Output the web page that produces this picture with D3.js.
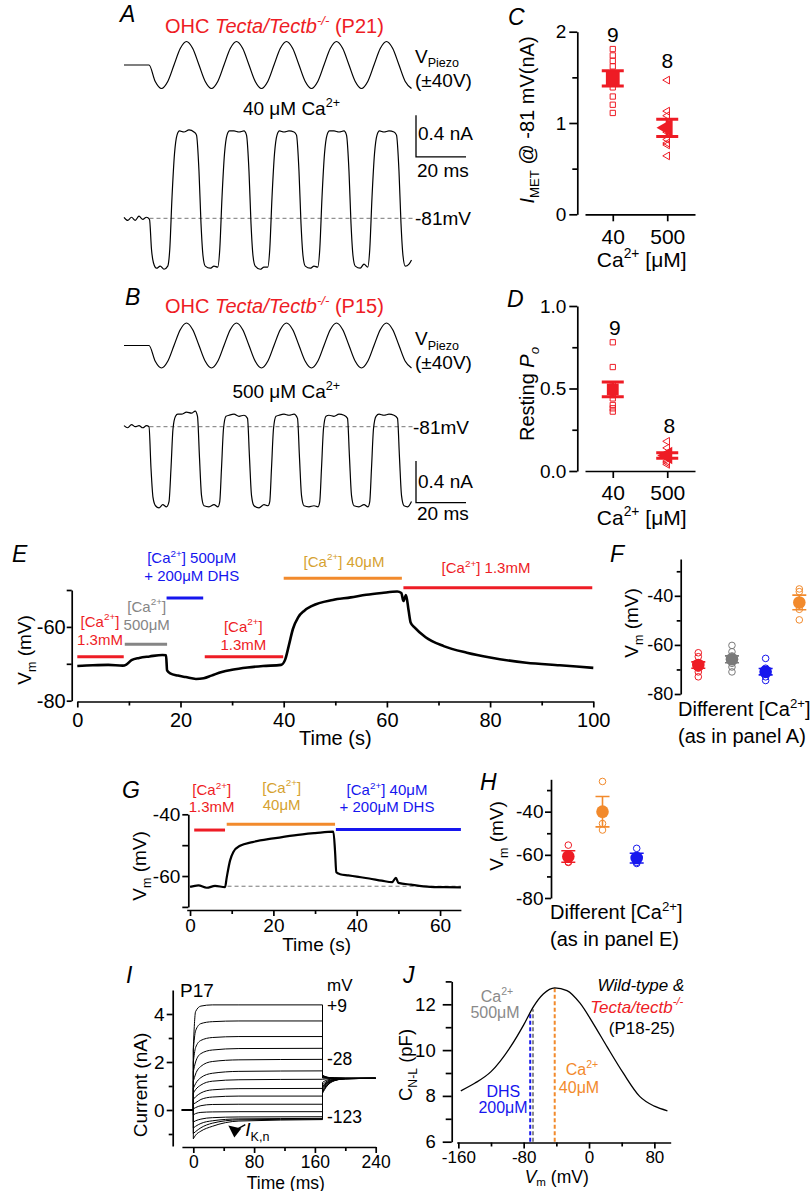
<!DOCTYPE html>
<meta charset="utf-8" />
<style>
  body { margin: 0; background: #fff; }
  svg { font-family: "Liberation Sans", Arial, Helvetica, sans-serif; }
  .trace { fill: none; stroke: #000; stroke-width: 1.2; stroke-linejoin: round; }
</style>
<body>
<svg id="fig" width="811" height="1191"></svg>
<script src="https://cdn.jsdelivr.net/npm/d3@7"></script>
<script>
const FONT = "'Liberation Sans', Arial, Helvetica, sans-serif";
const RED = "#ee1c25", GRAY = "#858585", BLUE = "#1616ee", ORANGE = "#f28a2c", GOLD = "#d6a230";

// ---- A / B : piezo drive (V) and MET current (nA) vs time (ms)
const piezo = [[0,0],[10,0],[12.5,-28],[15,-40],[17.5,-28],[20,0],[22.5,28],[25,40],[27.5,28],[30,0],
  [32.5,-28],[35,-40],[37.5,-28],[40,0],[42.5,28],[45,40],[47.5,28],[50,0],[52.5,-28],[55,-40],
  [57.5,-28],[60,0],[62.5,28],[65,40],[67.5,28],[70,0],[72.5,-28],[75,-40],[77.5,-28],[80,0],
  [82.5,28],[85,40],[87.5,28],[90,0],[92.5,-28],[95,-40],[97.5,-28],[100,0],[102.5,28],[105,40],
  [107.5,28],[110,0],[112.5,-28],[115,-40]];
const curA = [[0,0.01],[1.5,-0.02],[3,0.01],[4.5,-0.02],[6,0.02],[7.5,-0.01],[9,0.01],[10.2,-0.01],
  [11,-0.3],[11.8,-0.43],[13,-0.48],[14.5,-0.46],[16,-0.49],[17.5,-0.46],
  [18.3,-0.3],[19.2,0.2],[20.2,0.62],[21.2,0.8],[22.2,0.84],[24,0.83],[26,0.85],[28,0.83],[29,0.8],
  [30,0.45],[30.8,-0.05],[31.6,-0.36],[32.5,-0.46],[34.5,-0.48],[36,-0.46],[37.5,-0.47],
  [38.3,-0.3],[39.2,0.2],[40.2,0.62],[41.2,0.8],[42.2,0.84],[44,0.84],[46,0.83],[48,0.84],[49,0.8],
  [50,0.45],[50.8,-0.05],[51.6,-0.36],[52.5,-0.46],[54.5,-0.49],[56,-0.47],[57.5,-0.47],
  [58.3,-0.3],[59.2,0.2],[60.2,0.62],[61.2,0.8],[62.2,0.84],[64,0.83],[66,0.84],[68,0.83],[69,0.8],
  [70,0.45],[70.8,-0.05],[71.6,-0.36],[72.5,-0.46],[74.5,-0.48],[76,-0.46],[77.5,-0.47],
  [78.3,-0.3],[79.2,0.2],[80.2,0.62],[81.2,0.8],[82.2,0.84],[84,0.84],[86,0.83],[88,0.84],[89,0.8],
  [90,0.45],[90.8,-0.05],[91.6,-0.36],[92.5,-0.46],[94.5,-0.48],[96,-0.44],[97.5,-0.47],
  [98.3,-0.3],[99.2,0.2],[100.2,0.62],[101.2,0.8],[102.2,0.84],[104,0.83],[106,0.84],[108,0.83],[109,0.8],
  [110,0.45],[110.8,-0.05],[111.6,-0.36],[112.5,-0.46],[114,-0.44],[115,-0.4]];
const curB = [[0,0.01],[1.5,-0.01],[3,0.02],[4.5,0],[6,0.01],[7.5,-0.01],[9,0.01],[10,0],
  [10.8,-0.4],[11.6,-0.68],[12.6,-0.76],[14,-0.78],[15.5,-0.75],[17,-0.77],[18,-0.72],
  [18.8,-0.4],[19.6,-0.02],[20.6,0.1],[21.5,0.12],[23,0.12],[25,0.14],[27,0.13],[28.5,0.15],[29.4,0.1],
  [30.2,-0.3],[31,-0.66],[32,-0.76],[34,-0.77],[36,-0.75],[37.6,-0.77],[38.3,-0.72],
  [39,-0.4],[39.8,-0.02],[40.8,0.1],[42,0.11],[44,0.12],[46,0.1],[48,0.11],[49.4,0.08],
  [50.2,-0.3],[51,-0.66],[52,-0.76],[54,-0.78],[56,-0.75],[57.6,-0.76],[58.3,-0.72],
  [59,-0.4],[59.8,-0.02],[60.8,0.1],[62,0.11],[64,0.12],[66,0.11],[68,0.12],[69.4,0.08],
  [70.2,-0.3],[71,-0.66],[72,-0.76],[74,-0.77],[76,-0.76],[77.6,-0.77],[78.3,-0.72],
  [79,-0.4],[79.8,-0.02],[80.8,0.1],[82,0.11],[84,0.1],[86,0.12],[88,0.11],[89.4,0.08],
  [90.2,-0.3],[91,-0.66],[92,-0.76],[94,-0.77],[96,-0.75],[97.6,-0.77],[98.3,-0.72],
  [99,-0.4],[99.8,-0.02],[100.8,0.1],[102,0.12],[104,0.11],[106,0.12],[108,0.11],[109.4,0.08],
  [110.2,-0.3],[111,-0.66],[112,-0.76],[113.5,-0.77],[115,-0.72]];

// ---- C / D : per-cell values
const caCats = ["40", "500"];
const cSq = [1.81, 1.74, 1.68, 1.62, 1.55, 1.39, 1.29, 1.20, 1.11];
const cTri = [1.47, 1.13, 1.08, 0.90, 0.82, 0.78, 0.76, 0.64];
const dSq = [0.78, 0.63, 0.52, 0.48, 0.46, 0.44, 0.40, 0.38, 0.36];
const dTri = [0.18, 0.14, 0.11, 0.09, 0.08, 0.06, 0.05, 0.04];

// ---- E : Vm trace (s, mV) and solution periods
const traceE = [[0,-70.6],[3,-70.4],[6,-70.3],[8.8,-70.5],[9.5,-70.2],[10.5,-69.0],[12,-68.4],[14,-68.0],
  [16.5,-67.6],[17.2,-67.7],[17.4,-71.8],[18,-72.6],[19.5,-73.2],[21,-73.6],[23,-74.1],[24.5,-73.9],
  [26,-73.2],[28,-72.2],[30,-71.6],[33,-71.0],[36,-70.6],[39.5,-70.3],[40.3,-68.8],[41,-65],[41.8,-60.5],
  [42.8,-57.4],[44,-55.6],[45.5,-54.3],[49.5,-52.7],[53,-52.0],[56,-51.3],[59,-50.8],[62,-50.4],
  [62.8,-50.8],[63.2,-53.0],[63.7,-51.4],[64.2,-55.5],[64.6,-58.8],[65.4,-60.2],[67.5,-62.8],
  [71,-65.2],[75.5,-67.0],[80,-68.3],[87,-69.7],[93.5,-70.4],[100,-71.1]];
const eSol = [
  { from: 0, to: 9, color: RED, text: RED, lines: [[["[Ca"], ["2+", "sup"], ["]"]], [["1.3mM"]]] },
  { from: 9.2, to: 17.4, color: GRAY, text: GRAY, lines: [[["[Ca"], ["2+", "sup"], ["]"]], [["500μM"]]] },
  { from: 17.3, to: 24.4, color: BLUE, text: BLUE, lines: [[["[Ca"], ["2+", "sup"], ["] 500μM"]], [["+ 200μM DHS"]]] },
  { from: 24.7, to: 39.9, color: RED, text: RED, lines: [[["[Ca"], ["2+", "sup"], ["]"]], [["1.3mM"]]] },
  { from: 40, to: 62.9, color: ORANGE, text: GOLD, lines: [[["[Ca"], ["2+", "sup"], ["] 40μM"]]] },
  { from: 63.2, to: 99.8, color: RED, text: RED, lines: [[["[Ca"], ["2+", "sup"], ["] 1.3mM"]]] }
];
// bar level (mV) and label anchor (x px, first baseline px) for each period
const eBarLevel = [-68.1, -64.7, -52.2, -68.1, -46.8, -49.4];
const eLabelPos = [[100, 626.7], [146.7, 611.7], [191.7, 563.3], [243.3, 631.7], [344, 566.7], [486, 573.3]];

// ---- F / H : Vm per solution
const fCats = ["1.3mM", "500μM", "DHS", "40μM"];
const fColors = [RED, "#7a7a7a", BLUE, ORANGE];
const fVals = [
  [-63.2, -64.8, -67.5, -68.5, -69.5, -71.0, -73.0],
  [-60.2, -62.8, -64.5, -66.0, -67.5, -69.0, -71.0],
  [-65.5, -69.5, -71.0, -72.0, -73.0, -74.5],
  [-37.2, -38.3, -45.5, -49.8]
];
const hCats = ["1.3mM", "40μM", "DHS"];
const hColors = [RED, ORANGE, BLUE];
const hVals = [[-55.5, -63.3, -63.5], [-26, -45.5, -48.5], [-57, -63.5, -64]];

// ---- G : Vm trace (s, mV) and solution periods
const traceG = [[0,-63.5],[2,-63.0],[4,-63.8],[6,-63.2],[8.4,-63.6],[8.8,-60.5],[9.6,-55],[10.4,-52.2],
  [12,-50.2],[15,-49.0],[20,-47.8],[25,-46.8],[30,-46.1],[34.4,-45.6],[34.8,-52],[35.1,-58.8],[36,-59.4],
  [38,-59.8],[40,-60.2],[43,-60.8],[46,-61.5],[48.5,-62.0],[49.4,-60.6],[50,-62.2],[53,-62.8],
  [57.6,-63.5],[61,-63.6],[65,-63.7]];
const gSol = [
  { from: 1, to: 8.4, color: RED, text: RED, lines: [[["[Ca"], ["2+", "sup"], ["]"]], [["1.3mM"]]] },
  { from: 8.8, to: 34.8, color: ORANGE, text: GOLD, lines: [[["[Ca"], ["2+", "sup"], ["]"]], [["40μM"]]] },
  { from: 35, to: 65, color: BLUE, text: BLUE, lines: [[["[Ca"], ["2+", "sup"], ["] 40μM"]], [["+ 200μM DHS"]]] }
];
const gBarLevel = [-45.1, -43.2, -44.9];
const gLabelPos = [[211.7, 795], [281.7, 792.7], [387, 795]];
const gRest = -63.3;

// ---- I : K+ currents (nA); step samples at iStepT, tail samples at iTailT (ms)
const iStepT = [0, 3, 10, 25, 60, 170];
const iStep = [
  [2.6, 4.1, 4.33, 4.38, 4.38, 4.38],
  [2.5, 3.3, 3.6, 3.68, 3.71, 3.71],
  [2.0, 2.6, 2.9, 3.02, 3.06, 3.06],
  [1.6, 2.0, 2.35, 2.5, 2.56, 2.57],
  [1.2, 1.5, 1.82, 2.02, 2.09, 2.11],
  [0.9, 1.1, 1.35, 1.53, 1.61, 1.63],
  [0.7, 0.85, 1.04, 1.2, 1.26, 1.28],
  [0.45, 0.55, 0.71, 0.84, 0.89, 0.9],
  [0.25, 0.3, 0.44, 0.54, 0.58, 0.58],
  [0.05, 0.1, 0.18, 0.23, 0.24, 0.24],
  [-0.2, -0.15, -0.1, -0.08, -0.07, -0.07],
  [-0.5, -0.45, -0.38, -0.32, -0.29, -0.28],
  [-0.75, -0.68, -0.56, -0.45, -0.37, -0.35],
  [-0.98, -0.9, -0.74, -0.55, -0.41, -0.38],
  [-1.2, -1.05, -0.88, -0.68, -0.46, -0.4]];
const iTailT = [170, 176, 186, 200, 240];
const iTail = [
  [1.45, 1.37, 1.33, 1.32, 1.32], [1.43, 1.36, 1.33, 1.32, 1.32], [1.41, 1.36, 1.33, 1.32, 1.32],
  [1.39, 1.35, 1.33, 1.32, 1.32], [1.37, 1.34, 1.33, 1.32, 1.32], [1.33, 1.33, 1.32, 1.32, 1.32],
  [1.28, 1.3, 1.31, 1.32, 1.32], [1.15, 1.25, 1.3, 1.31, 1.32], [1.05, 1.2, 1.28, 1.31, 1.32],
  [0.98, 1.16, 1.27, 1.31, 1.32], [0.92, 1.13, 1.26, 1.31, 1.32], [0.86, 1.1, 1.25, 1.3, 1.32],
  [0.8, 1.06, 1.24, 1.3, 1.32], [0.75, 1.03, 1.23, 1.3, 1.32], [0.7, 1.0, 1.22, 1.3, 1.32]];
const iLabels = ["+9", "-28", "-123"];

// ---- J : non-linear capacitance (mV, pF)
const nlc = [[-157,8.22],[-140,8.55],[-120,9.06],[-96,10.15],[-80,11.1],[-68,11.9],[-56,12.45],[-42,12.72],
  [-27,12.6],[-11,12.05],[5,11.17],[22,10.15],[42,8.99],[62,7.98],[80,7.55],[96,7.35]];
const jMarks = [{ v: -72, top: 11.62, color: BLUE }, { v: -68.6, top: 11.78, color: "#8a8a8a" }, { v: -42, top: 12.72, color: ORANGE }];

// ================= drawing =================
const svg = d3.select("#fig");

function rich(g, x, y, parts, o = {}) {
  const fs = o.size || 19;
  const t = g.append("text").attr("x", x).attr("y", y).attr("font-size", fs)
    .attr("fill", o.fill || "#000").attr("text-anchor", o.anchor || "start");
  if (o.italic) t.attr("font-style", "italic");
  if (o.transform) t.attr("transform", o.transform);
  let shift = 0;
  parts.forEach(p => {
    if (typeof p === "string") p = [p];
    const [txt, kind, it] = p;
    const target = kind === "sup" ? -0.42 * fs : kind === "sub" ? (o.subShift ?? 0.26) * fs : 0;
    const s = t.append("tspan").text(txt).attr("dy", target - shift);
    shift = target;
    if (kind === "sup" || kind === "sub") s.attr("font-size", fs * 0.66);
    if (it) s.attr("font-style", "italic");
  });
  return t;
}
const vertTitle = (g, x, y, parts, size) =>
  rich(g, 0, 0, parts, { size, anchor: "middle", transform: `translate(${x},${y}) rotate(-90)` });
const letter = (x, y, s) => svg.append("text").attr("x", x).attr("y", y).attr("font-size", 23)
  .attr("font-style", "italic").text(s);

function styleAxis(a, size) {
  a.attr("font-size", size).attr("font-family", FONT);
  a.selectAll("path, line").attr("stroke", "#000").attr("stroke-width", 1.7);
  a.selectAll("text").attr("fill", "#000");
}
function leftAxis(g, y, x, ticks, o) {
  const a = g.append("g").attr("transform", `translate(${x},0)`)
    .call(d3.axisLeft(y).tickValues(ticks).tickSizeInner(o.len).tickSizeOuter(0)
      .tickPadding(o.pad).tickFormat(o.fmt || (d => String(d))));
  styleAxis(a, o.size);
  if (o.minor) {
    const m = g.append("g").attr("transform", `translate(${x},0)`)
      .call(d3.axisLeft(y).tickValues(o.minor).tickSizeInner(o.minLen).tickSizeOuter(0).tickFormat(""));
    m.select(".domain").remove();
    styleAxis(m, 10);
  }
}
function bottomAxis(g, x, y, ticks, o) {
  const ax = d3.axisBottom(x).tickSizeInner(o.len).tickSizeOuter(0).tickPadding(o.pad)
    .tickFormat(o.fmt || (d => String(d)));
  if (ticks) ax.tickValues(ticks);
  const a = g.append("g").attr("transform", `translate(0,${y})`).call(ax);
  styleAxis(a, o.size);
  if (o.minor) {
    const m = g.append("g").attr("transform", `translate(0,${y})`)
      .call(d3.axisBottom(x).tickValues(o.minor).tickSizeInner(o.minLen).tickSizeOuter(0).tickFormat(""));
    m.select(".domain").remove();
    styleAxis(m, 10);
  }
}
const stats = v => ({ m: d3.mean(v), s: d3.deviation(v) / Math.sqrt(v.length) });

// ---------- A and B ----------
const xA = d3.scaleLinear().domain([0, 115]).range([124, 411.5]);
function recording(opt) {
  const g = svg.append("g");
  const yS = d3.scaleLinear().domain([-40, 40]).range(opt.sRange);
  const yI = d3.scaleLinear().domain([0, 1]).range([opt.zero, opt.zero - 104]);
  g.append("path").attr("class", "trace")
    .attr("d", d3.line().x(d => xA(d[0])).y(d => yS(d[1])).curve(d3.curveMonotoneX)(piezo));
  g.append("line").attr("x1", xA(10.2)).attr("x2", 414).attr("y1", yI(0)).attr("y2", yI(0))
    .attr("stroke", "#777").attr("stroke-width", 1).attr("stroke-dasharray", "4,3");
  g.append("path").attr("class", "trace")
    .attr("d", d3.line().x(d => xA(d[0])).y(d => yI(d[1])).curve(d3.curveMonotoneX)(opt.cur));
  // scale bars 0.4 nA / 20 ms
  const bx = xA(116.8), by = yI(opt.barLow);
  g.append("path").attr("fill", "none").attr("stroke", "#000").attr("stroke-width", 1.3)
    .attr("d", `M${bx},${yI(opt.barLow + 0.4)}V${by}H${xA(136.8)}`);
  rich(g, bx + 2, opt.nA, ["0.4 nA"], { size: 19 });
  rich(g, bx + 1, opt.ms, ["20 ms"], { size: 19 });
  rich(g, 165, opt.title, ["OHC ", ["Tecta/Tectb", "", 1], ["-/-", "sup", 1], " (P" + opt.age + ")"], { size: 20, fill: RED });
  rich(g, 415, opt.vp, ["V", ["Piezo", "sub"]], { size: 19 });
  rich(g, 415, opt.vp + 24, ["(±40V)"], { size: 19 });
  rich(g, 340, opt.ca, [opt.caText + " μM Ca", ["2+", "sup"]], { size: 19, anchor: "end" });
  rich(g, opt.mvX, yI(0) + 7, ["-81mV"], { size: 19 });
}
recording({ sRange: [88.5, 41.5], zero: 218.3, cur: curA, barLow: 0.59, nA: 140, ms: 177,
  title: 33.3, age: 21, vp: 62.5, ca: 115, caText: "40", mvX: 415 });
recording({ sRange: [368, 323], zero: 426.7, cur: curB, barLow: -0.73, nA: 488.3, ms: 520,
  title: 313.3, age: 15, vp: 345, ca: 398, caText: "500", mvX: 413 });
letter(120, 21.7, "A");
letter(125, 305, "B");

// ---------- C and D ----------
function dotPanel(o) {
  const g = svg.append("g");
  const x = d3.scalePoint().domain(caCats).range([585, 695]).padding(0.51);
  leftAxis(g, o.y, 577.3, o.major, { len: 8, pad: 3, size: 19, minor: o.minor, minLen: 5, fmt: o.fmt });
  bottomAxis(g, x, o.y.range()[0], null, { len: 7, pad: 7.5, size: 21 });
  const sq = d3.symbol().type(d3.symbolSquare);
  const tri = d3.symbol().type(d3.symbolTriangle);
  [[o.sq, sq, o.sqBig], [o.tri, tri, o.triBig]].forEach(([vals, sym, big], i) => {
    const cx = x(caCats[i]);
    const rot = i === 1 ? " rotate(-90)" : "";
    g.selectAll(null).data(vals).join("path")
      .attr("transform", d => `translate(${cx},${o.y(d)})${rot}`)
      .attr("d", sym.size(i === 0 ? 28 : 26)())
      .attr("fill", "none").attr("stroke", RED).attr("stroke-width", 1);
    const st = stats(vals);
    g.append("path").attr("fill", "none").attr("stroke", RED).attr("stroke-width", 3)
      .attr("d", `M${cx},${o.y(st.m - st.s)}V${o.y(st.m + st.s)}` +
        `M${cx - 11},${o.y(st.m + st.s)}H${cx + 11}M${cx - 11},${o.y(st.m - st.s)}H${cx + 11}`);
    g.append("path").attr("transform", `translate(${cx},${o.y(st.m)})${rot}`)
      .attr("d", sym.size(big)()).attr("fill", RED);
    rich(g, cx + (o.nDx || 0), o.nY[i], [String(vals.length)], { size: 21, anchor: "middle" });
  });
  vertTitle(g, 534, o.titleY, o.title, 20);
  rich(g, 641.7, o.xTitleY, ["Ca", ["2+", "sup"], " [μM]"], { size: 21, anchor: "middle" });
}
dotPanel({ y: d3.scaleLinear().domain([0, 2]).range([214.3, 31.7]), major: [0, 1, 2], minor: [0.5, 1.5],
  sq: cSq, tri: cTri, sqBig: 190, triBig: 150, nY: [41.7, 68], titleY: 120,
  title: [["I", "", 1], ["MET", "sub"], " @ -81 mV(nA)"], xTitleY: 267 });
dotPanel({ y: d3.scaleLinear().domain([0, 1]).range([471, 306]), major: [0, 0.5, 1], minor: [0.25, 0.75],
  fmt: d3.format(".1f"), sq: dSq, tri: dTri, sqBig: 140, triBig: 130, nY: [335, 433.3], nDx: 2,
  titleY: 394, title: ["Resting ", ["P", "", 1], ["o", "sub", 1]], xTitleY: 525 });
letter(508, 25, "C");
letter(507, 306.7, "D");

// ---------- E ----------
{
  const g = svg.append("g");
  const x = d3.scaleLinear().domain([0, 100]).range([77.3, 593.3]);
  const y = d3.scaleLinear().domain([-80, -50]).range([700.7, 590]);
  leftAxis(g, y, 71.7, [-80, -70, -60, -50], { len: 5, pad: 1, size: 20, fmt: d => (d === -60 || d === -80) ? String(d) : "" });
  bottomAxis(g, x, 701.5, d3.range(0, 101, 20), { len: 6, pad: 5.5, size: 20, minor: d3.range(10, 100, 20), minLen: 4 });
  g.append("path").attr("fill", "none").attr("stroke", "#000").attr("stroke-width", 2.6).attr("stroke-linejoin", "round")
    .attr("d", d3.line().x(d => x(d[0])).y(d => y(d[1])).curve(d3.curveMonotoneX)(traceE));
  eSol.forEach((s, i) => {
    g.append("line").attr("x1", x(s.from)).attr("x2", x(s.to)).attr("y1", y(eBarLevel[i])).attr("y2", y(eBarLevel[i]))
      .attr("stroke", s.color).attr("stroke-width", 3);
    s.lines.forEach((ln, k) => rich(g, eLabelPos[i][0], eLabelPos[i][1] + k * 18, ln, { size: 15, fill: s.text, anchor: "middle" }));
  });
  vertTitle(g, 31, 650, ["V", ["m", "sub"], " (mV)"], 19);
  rich(g, 335.3, 744.5, ["Time (s)"], { size: 20, anchor: "middle" });
  letter(12, 561.7, "E");
}

// ---------- F and H ----------
function groupDots(o) {
  const g = svg.append("g");
  const x = d3.scalePoint().domain(o.cats).range(o.xr);
  leftAxis(g, o.y, o.ax, [-80, -60, -40], { len: 6, pad: 1.5, size: o.tick, minor: [-70, -50, -30], minLen: 4 });
  o.vals.forEach((vals, i) => {
    const cx = x(o.cats[i]), c = o.colors[i], st = stats(vals);
    g.selectAll(null).data(vals).join("circle").attr("cx", cx).attr("cy", d => o.y(d)).attr("r", 3.3)
      .attr("fill", "none").attr("stroke", c).attr("stroke-width", 1);
    g.append("path").attr("fill", "none").attr("stroke", c).attr("stroke-width", 1.6)
      .attr("d", `M${cx},${o.y(st.m - st.s)}V${o.y(st.m + st.s)}` +
        `M${cx - 7},${o.y(st.m + st.s)}H${cx + 7}M${cx - 7},${o.y(st.m - st.s)}H${cx + 7}`);
    g.append("circle").attr("cx", cx).attr("cy", o.y(st.m)).attr("r", 6.3).attr("fill", c);
  });
  vertTitle(g, o.titleX, o.titleY, ["V", ["m", "sub"], " (mV)"], 19);
  rich(g, o.tx, o.ty, ["Different [Ca", ["2+", "sup"], "]"], { size: 20 });
  rich(g, o.tx, o.ty + 26.5, ["(as in panel " + o.panel + ")"], { size: 20 });
}
groupDots({ cats: fCats, colors: fColors, vals: fVals, xr: [698.3, 799.3], ax: 680.7, tick: 18,
  y: d3.scaleLinear().domain([-80, -25]).range([694, 559]), titleX: 638, titleY: 623, tx: 678, ty: 716, panel: "A" });
groupDots({ cats: hCats, colors: hColors, vals: hVals, xr: [568.3, 636.7], ax: 551, tick: 19,
  y: d3.scaleLinear().domain([-80, -25]).range([898, 779.3]), titleX: 503, titleY: 836, tx: 550, ty: 919, panel: "E" });
letter(610, 561.7, "F");
letter(480, 790, "H");

// ---------- G ----------
{
  const g = svg.append("g");
  const x = d3.scaleLinear().domain([-0.8, 65]).range([186.7, 460.9]);
  const y = d3.scaleLinear().domain([-70, -40]).range([906.9, 814.3]);
  leftAxis(g, y, 188.3, [-60, -40], { len: 6, pad: 2, size: 19, minor: [-70, -50], minLen: 6 });
  bottomAxis(g, x, 910, [0, 20, 40, 60], { len: 6, pad: 2.5, size: 19, minor: [10, 30, 50], minLen: 4 });
  g.append("line").attr("x1", x(9)).attr("x2", x(65)).attr("y1", y(gRest)).attr("y2", y(gRest))
    .attr("stroke", "#777").attr("stroke-width", 1).attr("stroke-dasharray", "4,3");
  g.append("path").attr("fill", "none").attr("stroke", "#000").attr("stroke-width", 2.2).attr("stroke-linejoin", "round")
    .attr("d", d3.line().x(d => x(d[0])).y(d => y(d[1])).curve(d3.curveMonotoneX)(traceG));
  gSol.forEach((s, i) => {
    g.append("line").attr("x1", x(s.from)).attr("x2", x(s.to)).attr("y1", y(gBarLevel[i])).attr("y2", y(gBarLevel[i]))
      .attr("stroke", s.color).attr("stroke-width", 3);
    s.lines.forEach((ln, k) => rich(g, gLabelPos[i][0], gLabelPos[i][1] + k * 17, ln, { size: 15, fill: s.text, anchor: "middle" }));
  });
  vertTitle(g, 146, 866, ["V", ["m", "sub"], " (mV)"], 19);
  rich(g, 316.7, 951, ["Time (s)"], { size: 19, anchor: "middle" });
  letter(122, 798, "G");
}

// ---------- I ----------
{
  const g = svg.append("g");
  const x = d3.scaleLinear().domain([-15, 240]).range([181.9, 375.7]);
  const y = d3.scaleLinear().domain([-1.5, 5]).range([1146, 990]);
  leftAxis(g, y, 172.7, [0, 2, 4], { len: 6, pad: 2, size: 19, minor: [-1, 1, 3], minLen: 4 });
  bottomAxis(g, x, 1147, [0, 80, 160, 240], { len: 6, pad: 2.5, size: 17.5, minor: [40, 120, 200], minLen: 4 });
  const lin = d3.line().x(d => x(d[0])).y(d => y(d[1]));
  const mono = d3.line().x(d => x(d[0])).y(d => y(d[1])).curve(d3.curveMonotoneX);
  iStep.forEach((vals, k) => {
    const step = iStepT.map((t, j) => [t, vals[j]]);
    const tail = iTailT.map((t, j) => [t, iTail[k][j]]);
    const d = lin([[-15, 0], [0, 0], [0, vals[0]]]) + mono(step) +
      lin([[170, vals[5]], [170, iTail[k][0]]]) + mono(tail);
    g.append("path").attr("d", d).attr("fill", "none").attr("stroke", "#000").attr("stroke-width", 1);
  });
  rich(g, 180, 997, ["P17"], { size: 19 });
  rich(g, 327, 990.5, ["mV"], { size: 17 });
  iLabels.forEach((txt, k) => rich(g, 327, [1011.5, 1065, 1123.3][k], [txt], { size: 17.5 }));
  // I_K,n arrow
  const tip = [x(54), y(-1.15)];
  g.append("path").attr("fill", "#000")
    .attr("d", `M${tip[0]},${tip[1]}L${tip[0] - 6},${tip[1] - 12}L${tip[0] + 7},${tip[1] - 9}Z`);
  g.append("line").attr("x1", tip[0] + 2).attr("y1", tip[1] - 8).attr("x2", tip[0] + 11).attr("y2", tip[1] - 13)
    .attr("stroke", "#000").attr("stroke-width", 1.3);
  rich(g, tip[0] + 11, tip[1] - 2, [["I", "", 1], ["K,n", "sub"]], { size: 19 });
  vertTitle(g, 147, 1085, ["Current (nA)"], 19);
  rich(g, 285.8, 1188.5, ["Time (ms)"], { size: 17.5, anchor: "middle" });
  letter(126, 983, "I");
}

// ---------- J ----------
{
  const g = svg.append("g");
  const x = d3.scaleLinear().domain([-162, 100]).range([456.7, 670.7]);
  const y = d3.scaleLinear().domain([6, 13]).range([1141.7, 981.4]);
  leftAxis(g, y, 451.7, [6, 8, 10, 12], { len: 9, pad: 7, size: 18.5, minor: [7, 9, 11, 13], minLen: 6 });
  bottomAxis(g, x, 1142.5, [-160, -80, 0, 80], { len: 6, pad: 2, size: 17, minor: [-120, -40, 40], minLen: 4 });
  jMarks.forEach(m => g.append("line").attr("x1", x(m.v)).attr("x2", x(m.v)).attr("y1", y(6)).attr("y2", y(m.top))
    .attr("stroke", m.color).attr("stroke-width", 2).attr("stroke-dasharray", "4,2.5"));
  g.append("path").attr("fill", "none").attr("stroke", "#000").attr("stroke-width", 1.3)
    .attr("d", d3.line().x(d => x(d[0])).y(d => y(d[1])).curve(d3.curveMonotoneX)(nlc));
  rich(g, 497, 1001.7, ["Ca", ["2+", "sup"]], { size: 16, fill: "#8a8a8a", anchor: "middle" });
  rich(g, 495, 1018.3, ["500μM"], { size: 16, fill: "#8a8a8a", anchor: "middle" });
  rich(g, 503.3, 1096.7, ["DHS"], { size: 16, fill: BLUE, anchor: "middle" });
  rich(g, 503, 1112.7, ["200μM"], { size: 16, fill: BLUE, anchor: "middle" });
  rich(g, 582, 1075, ["Ca", ["2+", "sup"]], { size: 16, fill: ORANGE, anchor: "middle" });
  rich(g, 579, 1093.3, ["40μM"], { size: 16, fill: ORANGE, anchor: "middle" });
  rich(g, 684.3, 990.7, ["Wild-type &"], { size: 17, italic: true, anchor: "end" });
  rich(g, 683.3, 1012.5, ["Tecta/tectb", ["-/-", "sup"]], { size: 17, italic: true, fill: RED, anchor: "end" });
  rich(g, 675, 1034, ["(P18-25)"], { size: 17, anchor: "end" });
  vertTitle(g, 412, 1065, ["C", ["N-L", "sub"], " (pF)"], 18.5);
  rich(g, 556.7, 1182.5, [["V", "", 1], ["m", "sub"], " (mV)"], { size: 17.5, anchor: "middle", subShift: 0.2 });
  letter(403, 983, "J");
}
</script>
</body>
